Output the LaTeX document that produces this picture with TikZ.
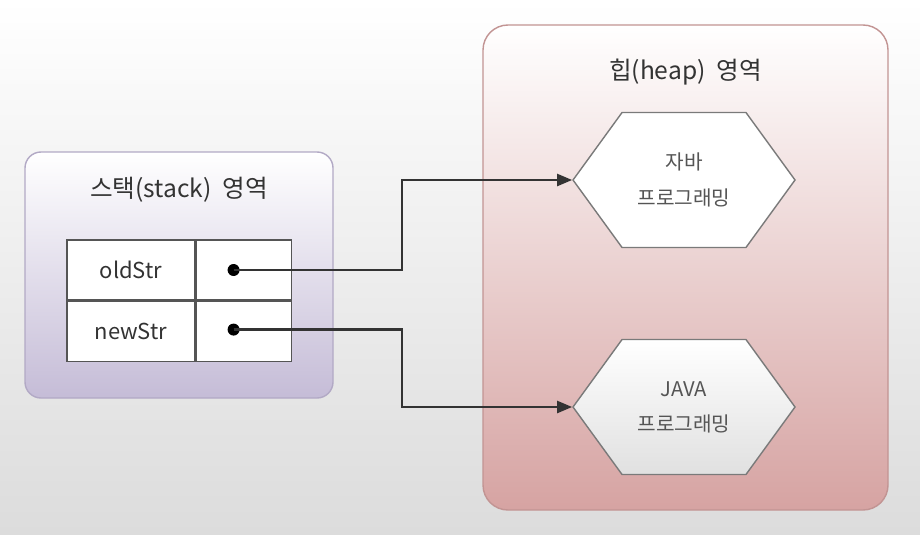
\documentclass[tikz,border=0pt]{standalone}
\usepackage{fontspec}
\setmainfont{Noto Sans CJK KR}
\usetikzlibrary{arrows.meta,positioning,shapes.symbols}
\definecolor{inkgray}{HTML}{333333}
\definecolor{hextext}{HTML}{555555}
\definecolor{hexline}{HTML}{7A7A7A}
\definecolor{cellline}{HTML}{555555}
\definecolor{bgbottom}{HTML}{DCDCDC}
\definecolor{stackfill}{HTML}{C5BCD7}
\definecolor{stackline}{HTML}{B2A9C5}
\definecolor{heapfill}{HTML}{D6A3A2}
\definecolor{heapline}{HTML}{C29493}

\begin{document}
\begin{tikzpicture}[>={Triangle[length=0.3cm,width=0.24cm]}, text=inkgray,
    font=\fontsize{14}{16}\selectfont,
    area/.style={draw, rounded corners=0.32cm, line width=0.8pt, inner sep=0pt},
    cell/.style={draw=cellline, fill=white, line width=0.9pt, minimum height=1.2cm, inner sep=0pt,
      font=\fontsize{12.5}{14}\selectfont},
    obj/.style={signal, signal to=west and east, signal pointer angle=108, draw=hexline,
      line width=0.8pt, minimum width=4.44cm, minimum height=2.7cm, inner sep=0pt,
      align=center, text=hextext, font=\fontsize{11.5}{20}\selectfont},
    dot/.style={circle, fill=black, inner sep=0pt, minimum size=0.24cm},
    ref/.style={->, line width=1.3pt, draw=inkgray}]
  % background
  \shade[top color=white, bottom color=bgbottom] (0,0) rectangle (18.4,-10.68);
  \useasboundingbox (0,0) rectangle (18.4,-10.68);
  % ================================================ stack
  \node[area, draw=stackline, top color=white, bottom color=stackfill,
    minimum width=6.16cm, minimum height=4.92cm] (stack) at (3.58,-5.5) {};
  \node (stacktitle) at ([yshift=-0.76cm]stack.north) {스택(stack)\ \ 영역};
  \node[cell, minimum width=2.56cm] (old) at (2.62,-5.4) {oldStr};
  \node[cell, minimum width=1.9cm, anchor=west] (p1) at (old.east) {};
  \node[cell, minimum width=2.56cm, anchor=north] (new) at (old.south) {newStr};
  \node[cell, minimum width=1.9cm, anchor=west] (p2) at (new.east) {};
  \node[dot] (d1) at ([xshift=-0.21cm]p1.center) {};
  \node[dot] (d2) at ([xshift=-0.21cm,yshift=0.04cm]p2.center) {};
  % ================================================ heap
  \node[area, draw=heapline, top color=white, bottom color=heapfill, rounded corners=0.5cm,
    minimum width=8.1cm, minimum height=9.7cm] (heap) at (13.71,-5.35) {};
  \node (heaptitle) at ([yshift=-0.96cm]heap.north) {힙(heap)\ \ 영역};
  \node[obj, fill=white] (hex1) at (13.68,-3.6) {자바\\프로그래밍};
  \node[obj, top color=white, bottom color=black!12] (hex2) at (13.68,-8.14) {JAVA\\프로그래밍};
  % ================================================ references
  \coordinate (bend) at (8.04,0);
  \draw[ref] (d1.center) -- (d1.center -| bend) |- (hex1.west);
  \draw[ref] (d2.center) -- (d2.center -| bend) |- (hex2.west);
\end{tikzpicture}
\end{document}
